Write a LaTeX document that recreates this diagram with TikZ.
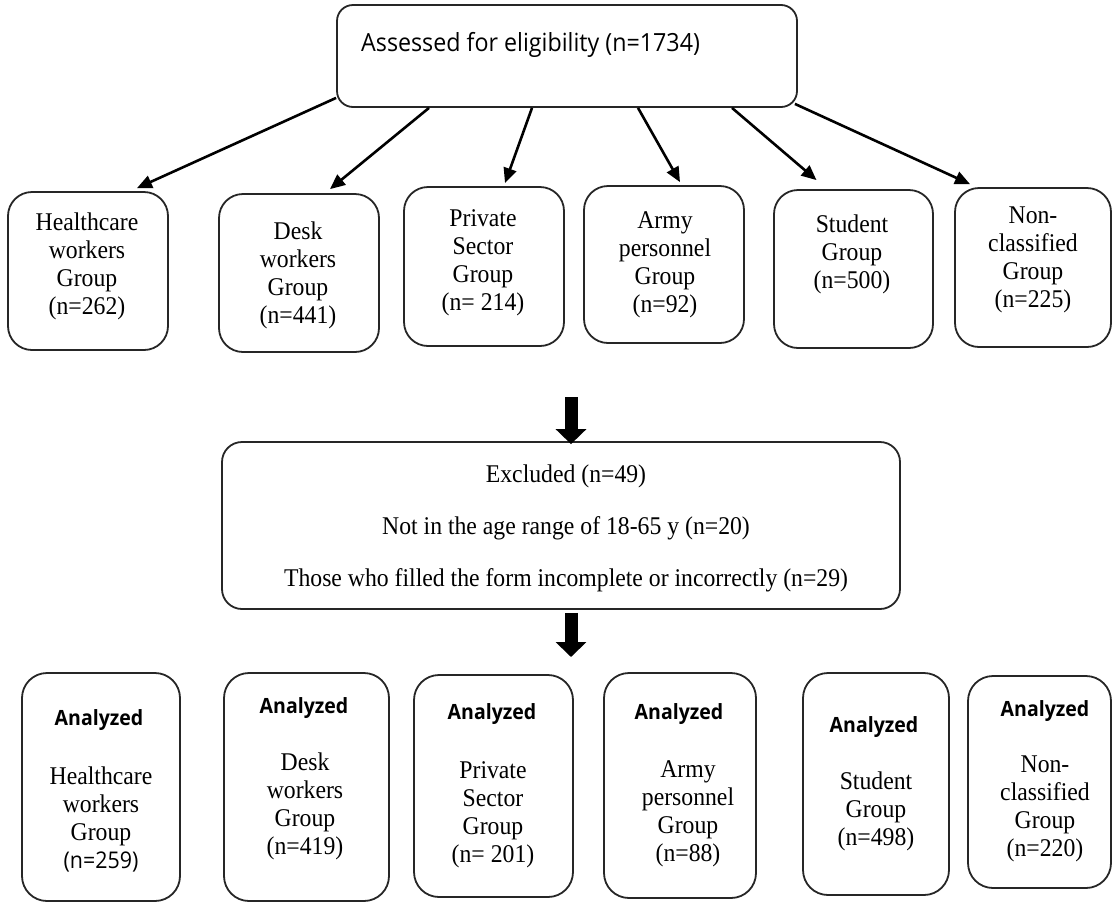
\documentclass[tikz,border=0pt]{standalone}
\usepackage{fontspec}
\setmainfont{Liberation Serif}[FakeStretch=0.93]
\newfontfamily\sansf{Open Sans}[FakeStretch=0.93]
\usetikzlibrary{arrows.meta,calc}
\tikzset{
  box/.style={draw=black!85, line width=1.8pt, rounded corners=24pt, inner sep=0pt},
  sertext/.style={align=center, font=\fontsize{25.5}{28}\selectfont, inner sep=0pt},
  anatext/.style={font=\sansf\bfseries\fontsize{21}{24}\selectfont, inner sep=0pt},
  toptext/.style={font=\sansf\fontsize{25}{28}\selectfont, inner sep=0pt},
  arr/.style={line width=2.6pt, -{Triangle[length=15pt,width=13pt]}},
  blockarr/.style={line width=13pt, -{Triangle[length=15pt,width=30pt]}},
}
\newcommand{\nsans}[1]{{\sansf\fontsize{23}{28}\selectfont #1}}
\begin{document}
\begin{tikzpicture}[x=1pt,y=-1pt]
\useasboundingbox (0,0) rectangle (1113,903);
\fill[white] (0,0) rectangle (1113,903);

% top box
\node[box, rounded corners=16pt, minimum width=460pt, minimum height=102pt] (top) at (567,56) {};
\node[toptext, anchor=west] (toptxt) at (361,45) {Assessed for eligibility (n=1734)};

% row 1 boxes
\node[box, minimum width=160pt, minimum height=158pt] (hc) at (88,271) {};
\node[box, minimum width=160pt, minimum height=158pt] (desk) at (299,273) {};
\node[box, minimum width=160pt, minimum height=159pt] (priv) at (484,266.5) {};
\node[box, minimum width=160pt, minimum height=157pt] (army) at (664,264.5) {};
\node[box, minimum width=159pt, minimum height=158pt] (stud) at (853.5,269) {};
\node[box, minimum width=156pt, minimum height=159pt] (non) at (1033,267.5) {};

\node[sertext] (hct) at (87,266) {Healthcare\\workers\\Group\\(n=262)};
\node[sertext] (deskt) at (298,275) {Desk\\workers\\Group\\(n=441)};
\node[sertext] (privt) at (483,263) {Private\\Sector\\Group\\(n= 214)};
\node[sertext] (armyt) at (665,265) {Army\\personnel\\Group\\(n=92)};
\node[sertext] (studt) at (852,254) {Student\\Group\\(n=500)};
\node[sertext] (nont) at (1033,260) {Non-\\classified\\Group\\(n=225)};

% arrows from top box
\draw[arr] ($(top.south west)+(0,-10)$) -- ($(hc.north)+(49,-3)$);
\draw[arr] ($(top.south)+(-138,0)$) -- ($(desk.north)+(31,-4)$);
\draw[arr] ($(top.south)+(-35,0)$) -- ($(priv.north)+(21,-3)$);
\draw[arr] ($(top.south)+(71,0)$) -- ($(army.north)+(16,-3)$);
\draw[arr] ($(top.south)+(165,0)$) -- ($(stud.north)+(-37,-9)$);
\draw[arr] ($(top.south east)+(-3,-4)$) -- ($(non.north)+(-63,-3)$);

% excluded box
\node[box, rounded corners=20pt, minimum width=678pt, minimum height=167pt] (excl) at (561,525.5) {};
\node[sertext, font=\fontsize{25.5}{52}\selectfont] (exclt) at (566,528.5)
  {Excluded (n=49)\\Not in the age range of 18-65 y (n=20)\\Those who filled the form incomplete or incorrectly (n=29)};

\coordinate (bstart) at (571,397);
\coordinate (bend) at (571,657);
\draw[blockarr] (bstart) -- ($(excl.north)+(10,3)$);
\draw[blockarr] ($(excl.south)+(10,3)$) -- (bend);

% bottom boxes
\node[box, rounded corners=25pt, minimum width=158pt, minimum height=228pt] (bhc) at (101,787) {};
\node[box, rounded corners=25pt, minimum width=165pt, minimum height=228pt] (bdesk) at (306.5,787) {};
\node[box, rounded corners=25pt, minimum width=159pt, minimum height=222pt] (bpriv) at (493.5,786) {};
\node[box, rounded corners=25pt, minimum width=152pt, minimum height=225pt] (barmy) at (680,785.5) {};
\node[box, rounded corners=25pt, minimum width=146pt, minimum height=222pt] (bstud) at (876,784) {};
\node[box, rounded corners=25pt, minimum width=143pt, minimum height=212pt] (bnon) at (1039.5,782) {};

\node[anatext] (bhca) at (99,720) {Analyzed};
\node[anatext] (bdeska) at (304,708) {Analyzed};
\node[anatext] (bpriva) at (492,714) {Analyzed};
\node[anatext] (barmya) at (679,714) {Analyzed};
\node[anatext] (bstuda) at (874,727) {Analyzed};
\node[anatext] (bnona) at (1045,711) {Analyzed};

\node[sertext] (bhct) at (101,819.5) {Healthcare\\workers\\Group\\\nsans{(n=259)}};
\node[sertext] (bdeskt) at (305,806) {Desk\\workers\\Group\\(n=419)};
\node[sertext] (bprivt) at (493,814.5) {Private\\Sector\\Group\\(n= 201)};
\node[sertext] (barmyt) at (688,814) {Army\\personnel\\Group\\(n=88)};
\node[sertext] (bstudt) at (876,811.5) {Student\\Group\\(n=498)};
\node[sertext] (bnont) at (1045,808.5) {Non-\\classified\\Group\\(n=220)};
\end{tikzpicture}
\end{document}
